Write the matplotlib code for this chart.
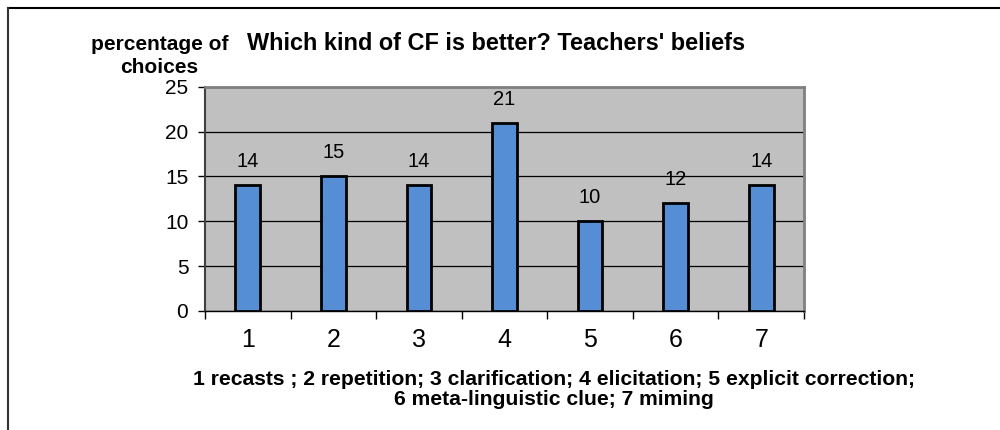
import matplotlib
matplotlib.use("Agg")
import matplotlib.pyplot as plt
from matplotlib.lines import Line2D

categories = ["1", "2", "3", "4", "5", "6", "7"]
values = [14, 15, 14, 21, 10, 12, 14]
y_ticks = [0, 5, 10, 15, 20, 25]

plt.rcParams['font.family'] = ['Liberation Sans', 'DejaVu Sans']

fig = plt.figure(figsize=(10, 4.3), dpi=100)
ax = fig.add_axes([0.205, 0.277, 0.599, 0.521])

x = list(range(len(categories)))
ax.set_facecolor("#c0c0c0")
ax.bar(x, values, width=0.29, color="#558ed5", edgecolor="black", linewidth=2, zorder=3)
for xi, v in zip(x, values):
    ax.annotate(str(v), (xi, v), xytext=(0, 17), textcoords="offset points",
                ha="center", va="center", fontsize=14.5)

ax.set_xlim(-0.5, len(categories) - 0.5)
ax.set_ylim(0, 25)
ax.set_yticks(y_ticks)
ax.set_yticklabels([str(t) for t in y_ticks], fontsize=15)
ax.yaxis.grid(True, color="black", linewidth=0.9, zorder=1)
ax.set_axisbelow(True)

ax.set_xticks(x)
ax.set_xticklabels(categories, fontsize=18)
ax.set_xticks([i - 0.5 for i in range(len(categories) + 1)], minor=True)
ax.tick_params(axis="x", which="major", length=0, pad=12)
ax.tick_params(axis="x", which="minor", length=6, width=1, color="black")
ax.tick_params(axis="y", length=5, width=1, pad=7)

for s in ["top", "right"]:
    ax.spines[s].set_color("#808080")
    ax.spines[s].set_linewidth(2)
ax.spines["left"].set_color("#404040")
ax.spines["left"].set_linewidth(1.5)
ax.spines["bottom"].set_color("black")
ax.spines["bottom"].set_linewidth(1)

fig.text(0.4965, 0.898, "Which kind of CF is better? Teachers' beliefs",
         ha="center", va="center", fontsize=16.9, fontweight="bold")
fig.text(0.1595, 0.869, "percentage of\nchoices", ha="center", va="center",
         fontsize=15, fontweight="bold", linespacing=1.25)

caption = ("1 recasts ; 2 repetition; 3 clarification; 4 elicitation; 5 explicit correction;\n"
           "6 meta-linguistic clue; 7 miming")
fig.text(0.554, 0.095, caption, ha="center", va="center", fontsize=15.2,
         fontweight="bold", linespacing=1.05)

# outer frame (top and left edges visible)
fig.add_artist(Line2D([0.008, 1.0], [0.981, 0.981], transform=fig.transFigure,
                      color="black", linewidth=1.5))
fig.add_artist(Line2D([0.008, 0.008], [0.0, 0.981], transform=fig.transFigure,
                      color="#333333", linewidth=1.5))

fig.savefig("out.png", dpi=100)
